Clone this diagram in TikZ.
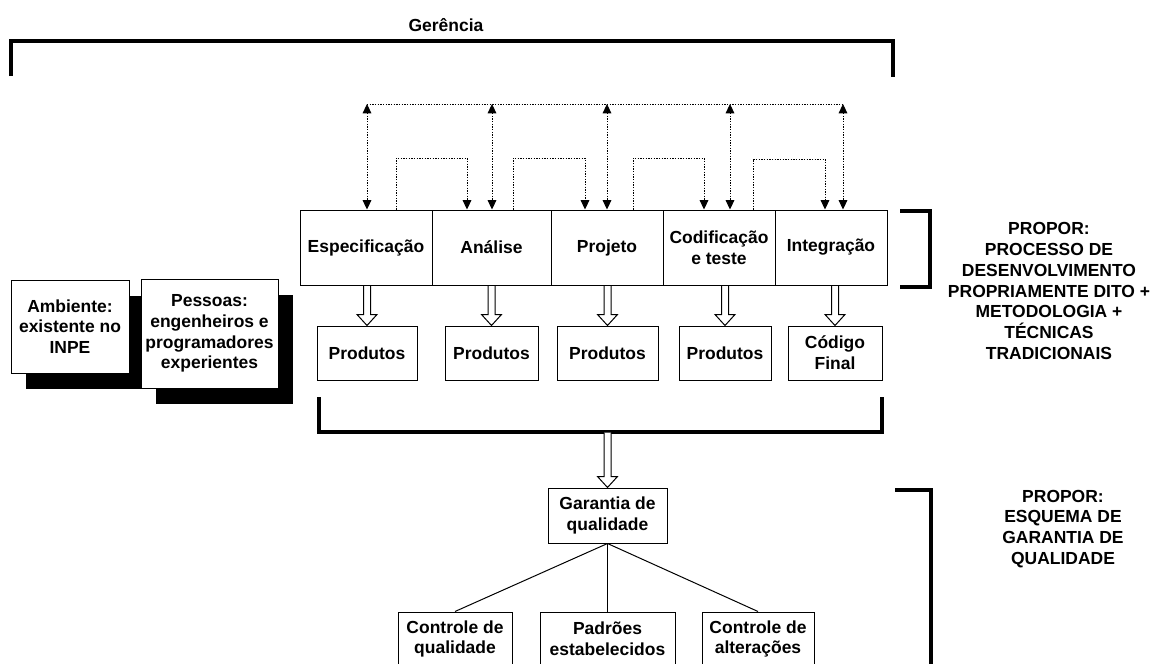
\documentclass[tikz,border=0pt]{standalone}
\usepackage{fontspec}
\setmainfont{Liberation Sans}
\usetikzlibrary{calc,arrows.meta,shadows}
\newcommand\harrow[2]{\draw[hol] ($(#1 -| #2)+(-3.5,0.6)$) -- ($(#2)+(-3.5,-11)$) -- ($(#2)+(-10,-11)$) -- (#2) -- ($(#2)+(10,-11)$) -- ($(#2)+(3.5,-11)$) -- ($(#1 -| #2)+(3.5,0.6)$);}
\begin{document}
\begin{tikzpicture}[x=0.75pt,y=-0.75pt,
  txt/.style={font=\fontsize{13.1}{15.6}\selectfont\bfseries, align=center, inner sep=0pt},
  rbox/.style n args={4}{txt, draw, line width=0.75pt, fill=white,
     minimum width={(#3-#1)*0.75pt}, minimum height={(#4-#2)*0.75pt},
     at={({(#1+#3)/2},{(#2+#4)/2})}},
  brk/.style={line width=3pt, line join=miter},
  rbrk/.style={line width=2.5pt, line join=miter},
  dotl/.style={line width=0.7pt, dash pattern=on 1pt off 1pt},
  tip/.style={-{Triangle[width=6.5pt,length=7pt]}},
  dtip/.style={{Triangle[width=6.5pt,length=7pt]}-{Triangle[width=6.5pt,length=7pt]}},
  hol/.style={line width=0.75pt, fill=white, line join=miter},
  shad/.style={drop shadow={shadow xshift=11.25pt, shadow yshift=-12pt, fill=black, opacity=1}},
  thin/.style={line width=0.75pt}
]
\useasboundingbox (0,0) rectangle (1158,664);

% Gerencia bracket
\node[txt] (ger) at (446,25) {Gerência};
\draw[brk] (11,76) |- (893,41) -- (893,77);

% process boxes
\node[rbox={300}{210}{432}{285}] (spec) {Especificação};
\node[rbox={432}{210}{551}{285}] (anal) {Análise};
\node[rbox={551}{210}{663}{285}] (proj) {Projeto};
\node[rbox={663}{210}{775}{285}] (codi) {Codificação\\e teste};
\node[rbox={775}{210}{887}{285}] (integ) {Integração};

% products
\node[rbox={317}{326}{417}{380}] (p1) {Produtos};
\node[rbox={445}{326}{538}{380}] (p2) {Produtos};
\node[rbox={557}{326}{658}{380}] (p3) {Produtos};
\node[rbox={679}{326}{771}{380}] (p4) {Produtos};
\node[rbox={788}{326}{882}{380}] (p5) {Código\\Final};

\harrow{spec.south}{p1.north}
\harrow{anal.south}{p2.north}
\harrow{proj.south}{p3.north}
\harrow{codi.south}{p4.north}
\harrow{integ.south}{p5.north}

% left boxes
\node[rbox={11}{280}{129}{373}, shad] (amb) {Ambiente:\\existente no\\INPE};
\node[rbox={141}{279}{278}{388}, shad] (pes) {Pessoas:\\engenheiros e\\programadores\\experientes};

% dotted bus
\coordinate (b1) at (367,104);
\coordinate (b2) at (492,104);
\coordinate (b3) at (607,104);
\coordinate (b4) at (730,104);
\coordinate (b5) at (843,104);
\draw[dotl] (b1) -- (b5);
\draw[dotl,dtip] (b1) -- (spec.north -| b1);
\draw[dotl,dtip] (b2) -- (anal.north -| b2);
\draw[dotl,dtip] (b3) -- (proj.north -| b3);
\draw[dotl,dtip] (b4) -- (codi.north -| b4);
\draw[dotl,dtip] (b5) -- (integ.north -| b5);

% step connectors
\coordinate (c1a) at (396,158); \coordinate (c1b) at (467,158);
\coordinate (c2a) at (513,158); \coordinate (c2b) at (585,158);
\coordinate (c3a) at (633,158); \coordinate (c3b) at (704,158);
\coordinate (c4a) at (753,159); \coordinate (c4b) at (825,159);
\draw[dotl,tip] (spec.north -| c1a) |- (c1b) -- (anal.north -| c1b);
\draw[dotl,tip] (anal.north -| c2a) |- (c2b) -- (proj.north -| c2b);
\draw[dotl,tip] (proj.north -| c3a) |- (c3b) -- (codi.north -| c3b);
\draw[dotl,tip] (codi.north -| c4a) |- (c4b) -- (integ.north -| c4b);

% right bracket + text
\draw[rbrk] (900,211) -| (930,287) -- (900,287);
\node[txt] (prop1) at (1049,291) {PROPOR:\\PROCESSO DE\\DESENVOLVIMENTO\\PROPRIAMENTE DITO +\\METODOLOGIA +\\TÉCNICAS\\TRADICIONAIS};

% middle bracket
\draw[brk] (319,397) |- (882,432) -- (882,397);
\coordinate (mb) at (608,432);

% quality
\node[rbox={548}{488}{667}{543}] (gq) {Garantia de\\qualidade};
\harrow{mb}{gq.north}
\node[rbox={398}{612}{512}{666}] (cq) {Controle de\\qualidade};
\node[rbox={540}{612}{675}{666}] (pad) {Padrões\\estabelecidos};
\node[rbox={702}{612}{814}{666}] (ca) {Controle de\\alterações};
\draw[thin] (gq.south) -- (cq.north);
\draw[thin] (gq.south) -- (pad.north);
\draw[thin] (gq.south) -- (ca.north);

\draw[rbrk] (895,490) -| (931,670);
\node[txt] (prop2) at (1063,529) {PROPOR:\\ESQUEMA DE\\GARANTIA DE\\QUALIDADE};
\end{tikzpicture}
\end{document}
